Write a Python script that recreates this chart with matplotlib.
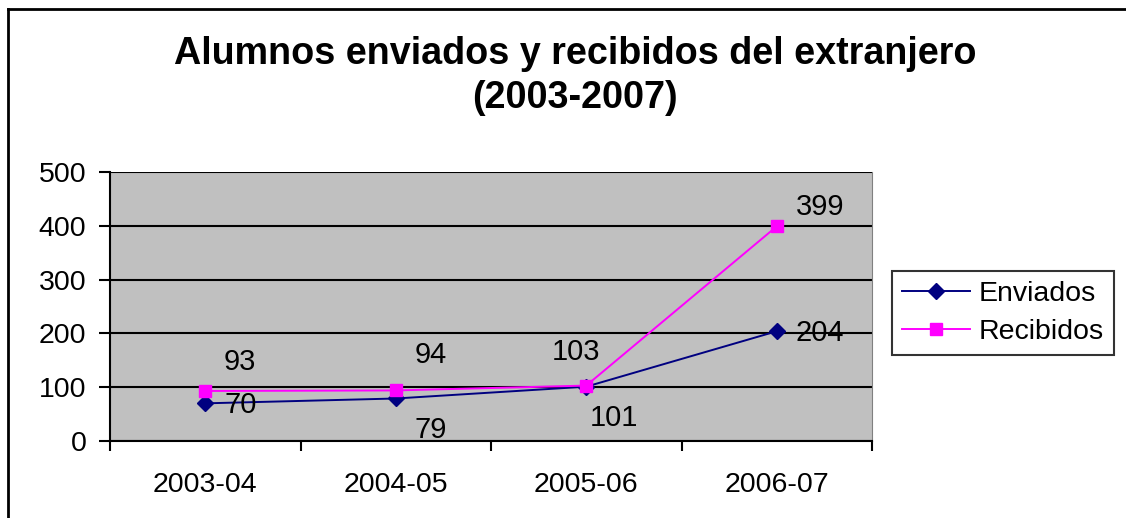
import matplotlib
matplotlib.use("Agg")
import matplotlib.pyplot as plt
from matplotlib.lines import Line2D

plt.rcParams['font.family'] = ['Liberation Sans', 'DejaVu Sans']

categories = ["2003-04", "2004-05", "2005-06", "2006-07"]
enviados = [70, 79, 101, 204]
recibidos = [93, 94, 103, 399]
yticks = [0, 100, 200, 300, 400, 500]
title = "Alumnos enviados y recibidos del extranjero\n(2003-2007)"

W, H = 1126, 518
fig = plt.figure(figsize=(W / 100, H / 100), dpi=100)
ax = fig.add_axes([110 / W, 1 - 441 / H, 762 / W, 269 / H])
ax.set_facecolor('#c0c0c0')

x = list(range(len(categories)))
ax.plot(x, enviados, color='#000080', lw=1.4, marker='D', ms=8,
        mfc='#000080', mec='#000080', zorder=3, label='Enviados')
ax.plot(x, recibidos, color='#ff00ff', lw=1.4, marker='s', ms=9,
        mfc='#ff00ff', mec='#ff00ff', zorder=3, label='Recibidos')

ax.set_xlim(-0.5, len(categories) - 0.5)
ax.set_ylim(0, 500)
ax.set_yticks(yticks)
ax.yaxis.grid(True, color='black', lw=1.5)
ax.set_axisbelow(True)
ax.set_xticks(x)
ax.set_xticklabels(categories, fontsize=20.5)
ax.tick_params(axis='x', length=0, pad=22)
ax.set_xticks([i - 0.5 for i in range(len(categories) + 1)], minor=True)
ax.tick_params(axis='x', which='minor', length=7, width=1.5, direction='out')
ax.tick_params(axis='y', length=8, width=1.5, labelsize=20.5, pad=9)

ax.spines['top'].set_visible(False)
ax.spines['right'].set_color('#808080')
ax.spines['left'].set_linewidth(1.5)
ax.spines['bottom'].set_linewidth(1.5)

# data labels (offsets in pixels)
env_off = [(35, -2), (35, -32), (28, -31), (43, -2)]
rec_off = [(35, 29), (35, 35), (-10, 34), (43, 19)]
for i in range(len(categories)):
    ax.annotate(str(enviados[i]), (x[i], enviados[i]), xytext=env_off[i],
                textcoords='offset pixels', ha='center', va='center', fontsize=21)
    ax.annotate(str(recibidos[i]), (x[i], recibidos[i]), xytext=rec_off[i],
                textcoords='offset pixels', ha='center', va='center', fontsize=21)

fig.text(575 / W, 1 - 76 / H, title, ha='center', va='center', fontsize=27.2,
         fontweight='bold', linespacing=1.3)

leg = fig.legend(loc='center', bbox_to_anchor=(1003 / W, 1 - 313 / H),
                 fontsize=20.5, frameon=True, fancybox=False, edgecolor='black',
                 handlelength=2.4, borderpad=0.35, labelspacing=0.4,
                 handletextpad=0.3, borderaxespad=0)
leg.get_frame().set_linewidth(1.5)

# outer border lines (top and left)
fig.add_artist(Line2D([8 / W, 1.0], [1 - 9 / H, 1 - 9 / H], color='black',
                      lw=2, transform=fig.transFigure))
fig.add_artist(Line2D([8 / W, 8 / W], [0, 1 - 9 / H], color='black',
                      lw=2, transform=fig.transFigure))

fig.savefig('out.png', dpi=100)
